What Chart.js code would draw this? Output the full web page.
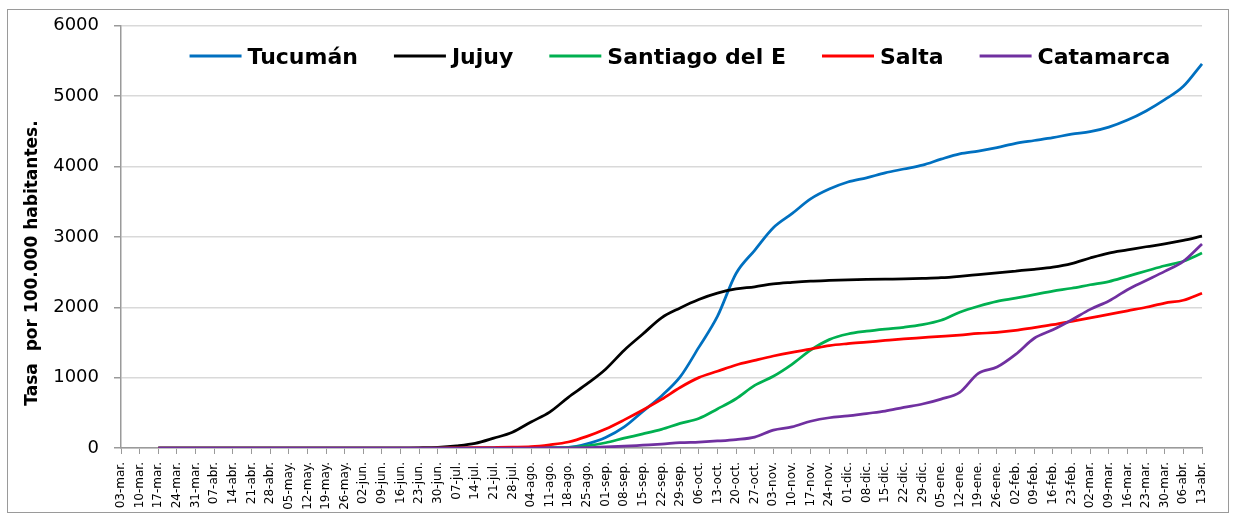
<!DOCTYPE html>
<html><head><meta charset="utf-8">
<script src="https://cdn.jsdelivr.net/npm/chart.js@4.4.1/dist/chart.umd.min.js"></script>
<style>
html,body{margin:0;padding:0;background:#fff;}
#wrap{position:relative;width:1234px;height:520px;}
#frame{position:absolute;left:7px;top:9px;width:1220px;height:502px;border:1px solid #9a9a9a;pointer-events:none;}
canvas{position:absolute;left:0;top:0;}
</style></head><body>
<div id="wrap"><canvas id="c" width="1234" height="520"></canvas><div id="frame"></div></div>
<script>
const weekLabels = ['03-mar.','10-mar.','17-mar.','24-mar.','31-mar.','07-abr.','14-abr.','21-abr.','28-abr.','05-may.','12-may.','19-may.','26-may.','02-jun.','09-jun.','16-jun.','23-jun.','30-jun.','07-jul.','14-jul.','21-jul.','28-jul.','04-ago.','11-ago.','18-ago.','25-ago.','01-sep.','08-sep.','15-sep.','22-sep.','29-sep.','06-oct.','13-oct.','20-oct.','27-oct.','03-nov.','10-nov.','17-nov.','24-nov.','01-dic.','08-dic.','15-dic.','22-dic.','29-dic.','05-ene.','12-ene.','19-ene.','26-ene.','02-feb.','09-feb.','16-feb.','23-feb.','02-mar.','09-mar.','16-mar.','23-mar.','30-mar.','06-abr.','13-abr.'];

const seriesNames = ['Tucumán','Jujuy','Santiago del E','Salta','Catamarca'];
const seriesColors = ['#0070C0','#000000','#00B050','#FF0000','#7030A0'];
const yAxisTitle = 'Tasa  por 100.000 habitantes.';

const tucuman = [null,null,0,0,0,0,0,0,0,0,0,0,0,0,0,0,0,0,0,0,1,2,3,5,10,60,150,300,520,740,1010,1430,1870,2480,2810,3130,3330,3540,3680,3780,3840,3910,3965,4020,4105,4180,4220,4270,4330,4370,4410,4460,4495,4560,4660,4790,4950,5140,5460];
const jujuy = [null,null,0,0,0,0,0,0,0,0,0,0,0,0,0,0,3,10,30,65,140,225,370,510,720,910,1120,1390,1620,1850,1990,2110,2200,2260,2290,2333,2355,2372,2382,2390,2396,2400,2403,2410,2420,2440,2465,2490,2515,2540,2570,2620,2700,2770,2815,2860,2900,2950,3010];
const santiago = [null,null,0,0,0,0,0,0,0,0,0,0,0,0,0,0,0,0,0,0,0,0,1,2,5,30,75,140,200,265,350,420,555,700,890,1020,1190,1390,1540,1620,1660,1690,1715,1752,1815,1930,2015,2085,2130,2180,2230,2270,2320,2365,2440,2515,2590,2653,2770];
const salta = [null,null,0,0,0,0,0,0,0,0,0,0,0,0,0,0,0,0,2,4,7,11,18,45,85,165,270,400,540,690,860,1000,1090,1180,1245,1307,1360,1405,1455,1483,1505,1528,1550,1568,1586,1605,1628,1642,1670,1712,1752,1800,1850,1898,1950,2000,2060,2100,2200];
const catamarca = [null,null,0,0,0,0,0,0,0,0,0,0,0,0,0,0,0,0,0,0,0,0,0,2,3,5,15,25,40,55,75,85,100,120,155,255,300,380,430,455,490,525,578,625,695,790,1060,1150,1330,1560,1680,1820,1970,2090,2250,2380,2510,2653,2900];

const yTicksMin = 0, yTicksMax = 6000, yStep = 1000;

const allSeries = [tucuman, jujuy, santiago, salta, catamarca];
const datasets = allSeries.map((vals, i) => ({
  label: seriesNames[i],
  data: vals,
  borderColor: seriesColors[i],
  backgroundColor: seriesColors[i],
  order: allSeries.length - i
}));

// Legend drawn inside the plot area, in one row (like the original)
const inlineLegend = {
  id: 'inlineLegend',
  beforeDatasetsDraw(chart) {
    const ctx = chart.ctx;
    const ds = chart.data.datasets;
    const lineLen = 52, gapText = 6, gapItem = 36;
    const centerX = 680, lineY = 56, baseY = 64;
    ctx.save();
    ctx.font = 'bold 22px "DejaVu Sans"';
    const widths = ds.map(d => ctx.measureText(d.label).width);
    const total = widths.reduce((a, b) => a + b, 0) + ds.length * (lineLen + gapText) + (ds.length - 1) * gapItem;
    let x = centerX - total / 2;
    ds.forEach((d, i) => {
      ctx.strokeStyle = d.borderColor;
      ctx.lineWidth = 3;
      ctx.beginPath(); ctx.moveTo(x, lineY); ctx.lineTo(x + lineLen, lineY); ctx.stroke();
      x += lineLen + gapText;
      ctx.fillStyle = '#000'; ctx.textAlign = 'left'; ctx.textBaseline = 'alphabetic';
      ctx.fillText(d.label, x, baseY);
      x += widths[i] + gapItem;
    });
    ctx.restore();
  },
  afterDraw(chart) {
    const ctx = chart.ctx;
    ctx.save();
    ctx.translate(37, 263);
    ctx.rotate(-Math.PI / 2);
    ctx.font = 'bold 17px "DejaVu Sans"';
    ctx.fillStyle = '#000';
    ctx.textAlign = 'center';
    ctx.textBaseline = 'alphabetic';
    ctx.fillText(yAxisTitle, 0, 0);
    ctx.restore();
  }
};

new Chart(document.getElementById('c'), {
  type: 'line',
  data: { labels: weekLabels, datasets: datasets },
  plugins: [inlineLegend],
  options: {
    responsive: false, animation: false, devicePixelRatio: 1,
    layout: { padding: { left: 12, right: 32, top: 25, bottom: 0 } },
    elements: { point: { radius: 0 }, line: { borderWidth: 2.75, cubicInterpolationMode: 'monotone' } },
    plugins: {
      legend: { display: false },
      tooltip: { enabled: false }
    },
    scales: {
      x: {
        grid: { drawOnChartArea: false, drawTicks: true, tickLength: 6, tickColor: '#9a9a9a' },
        border: { color: '#9a9a9a', width: 1.5 },
        ticks: { autoSkip: false, maxRotation: 90, minRotation: 90, padding: 8, color: '#000', font: { family: 'DejaVu Sans', size: 12 } },
        afterFit: (s) => { s.height = 72; }
      },
      y: {
        min: yTicksMin, max: yTicksMax,
        ticks: { stepSize: yStep, padding: 15, color: '#000', font: { family: 'DejaVu Sans', size: 18 }, callback: (v) => String(v) },
        grid: { color: '#d9d9d9', lineWidth: 1.5, tickLength: 7, tickColor: '#9a9a9a' },
        border: { color: '#9a9a9a', width: 1.5 },
        afterFit: (s) => { s.width = 109; }
      }
    }
  }
});
</script>
</body></html>
